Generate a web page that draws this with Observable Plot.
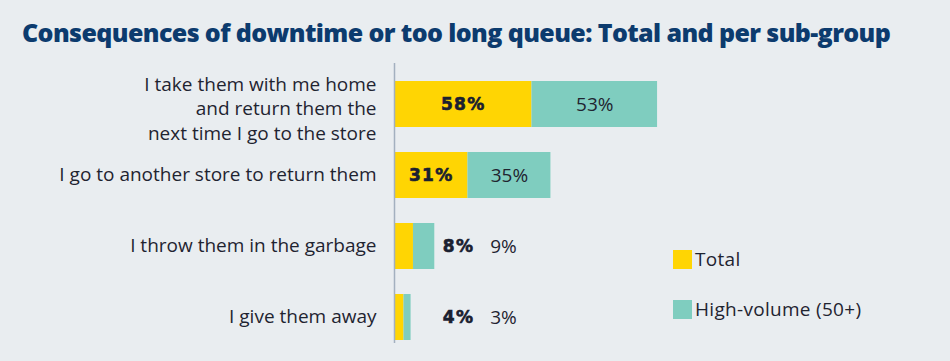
<!DOCTYPE html>
<html>
<head>
<meta charset="utf-8">
<script src="https://cdn.jsdelivr.net/npm/d3@7"></script>
<script src="https://cdn.jsdelivr.net/npm/@observablehq/plot@0.6"></script>
<style>
  html, body { margin: 0; padding: 0; background: #e9edf0; }
  #title { height: 60px; position: relative; }
  #title h1 { position: absolute; left: 22px; top: 15px; margin: 0; font-family: "Open Sans", sans-serif; font-weight: 800; font-size: 25px; color: #0c3b6e; white-space: nowrap; letter-spacing: -0.6px; }
  #chart { position: relative; width: 950px; height: 301px; }
  .legend { position: absolute; left: 673px; font-family: "Open Sans", sans-serif; font-size: 19px; letter-spacing: 0.3px; color: #1f2430; display: flex; align-items: center; }
  .legend span.sw { width: 19px; height: 19px; display: inline-block; margin-right: 3px; }
</style>
</head>
<body>
<div id="title"><h1>Consequences of downtime or too long queue: Total and per sub-group</h1></div>
<div id="chart"></div>
<script>
const categories = [
  "I take them with me home and return them the next time I go to the store",
  "I go to another store to return them",
  "I throw them in the garbage",
  "I give them away"
];
const tickLabels = [
  "I take them with me home\nand return them the\nnext time I go to the store",
  "I go to another store to return them",
  "I throw them in the garbage",
  "I give them away"
];
const seriesNames = ["Total", "High-volume (50+)"];
const totalValues = [58, 31, 8, 4];
const highVolumeValues = [53, 35, 9, 3];
const seriesColors = ["#ffd503", "#7fcdbf"];

const long = [];
categories.forEach((c, i) => {
  long.push({category: c, series: seriesNames[0], value: totalValues[i], start: 0, end: totalValues[i]});
  long.push({category: c, series: seriesNames[1], value: highVolumeValues[i], start: totalValues[i], end: totalValues[i] + highVolumeValues[i]});
});

// labels: inside segment if the row is wide, otherwise in a column to the right of the small bars
const rowTotals = categories.map((c, i) => totalValues[i] + highVolumeValues[i]);
const small = rowTotals.map(t => t < 25);
const smallEnd = d3.max(rowTotals.filter((t, i) => small[i]));
const labels = long.map(d => {
  const i = categories.indexOf(d.category);
  let x;
  if (!small[i]) x = (d.start + d.end) / 2;
  else x = smallEnd + (d.series === seriesNames[0] ? 10 : 29);
  return {...d, x, text: d.value + "%"};
});

const axisStyle = {
  tickSize: 0, tickPadding: 18, label: null,
  tickFormat: d => tickLabels[categories.indexOf(d)],
  fontSize: 19, lineHeight: 1.3,
  fontFamily: "Open Sans, sans-serif", fill: "#1f2430"
};

const chart = Plot.plot({
  width: 950,
  height: 301,
  marginLeft: 394,
  marginTop: 3,
  marginBottom: 18,
  marginRight: 0,
  style: {background: "transparent", overflow: "visible"},
  x: {domain: [0, 100], range: [394, 631], axis: null},
  y: {domain: categories, range: [7, 294.7], paddingInner: 0.347, paddingOuter: 0.1735, axis: null},
  color: {domain: seriesNames, range: seriesColors},
  marks: [
    Plot.barX(long, {x1: "start", x2: "end", y: "category", fill: "series"}),
    Plot.ruleX([0], {stroke: "#a3b0bf", strokeWidth: 1.5}),
    Plot.axisY({...axisStyle, ticks: categories.slice(0, 1), dy: 3}),
    Plot.axisY({...axisStyle, ticks: categories.slice(1), dy: -2}),
    Plot.text(labels.filter(d => d.series === seriesNames[0]), {
      x: "x", y: "category", text: "text",
      fontFamily: "DejaVu Sans, sans-serif", fontWeight: "bold", fontSize: 17,
      fill: "#1a2030"
    }),
    Plot.text(labels.filter(d => d.series === seriesNames[1]), {
      x: "x", y: "category", text: "text",
      fontFamily: "Open Sans, sans-serif", fontSize: 19,
      fill: "#1f2430"
    })
  ]
});
const host = document.getElementById("chart");
host.appendChild(chart);
chart.style.fontFamily = "Open Sans, sans-serif";
chart.querySelectorAll("text").forEach(t => {
  if (t.getAttribute("font-weight") === "bold" || (t.parentNode && t.parentNode.getAttribute && t.parentNode.getAttribute("font-weight") === "bold")) {
    t.style.letterSpacing = "1.2px";
    t.style.stroke = "#1a2030";
    t.style.strokeWidth = "0.6px";
  }
});

const legendTops = [186, 236];
seriesNames.forEach((s, i) => {
  const div = document.createElement("div");
  div.className = "legend";
  div.style.top = legendTops[i] + "px";
  div.innerHTML = `<span class="sw" style="background:${seriesColors[i]}"></span><span>${s}</span>`;
  host.appendChild(div);
});
</script>
</body>
</html>
